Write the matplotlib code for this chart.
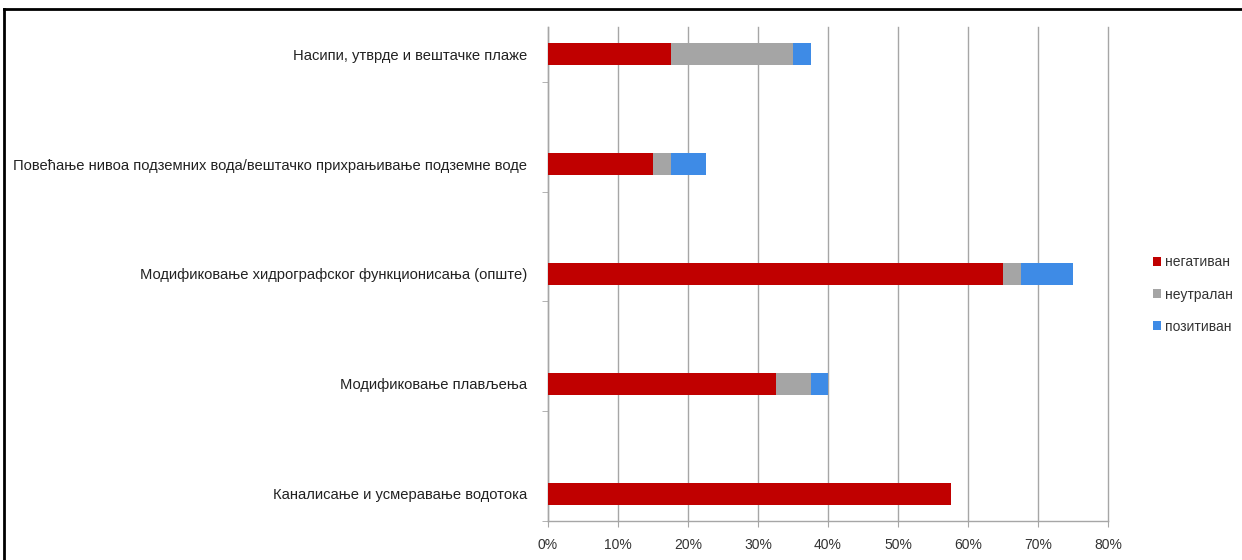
import matplotlib
matplotlib.use("Agg")
import matplotlib.pyplot as plt
from matplotlib.lines import Line2D
from matplotlib.ticker import FuncFormatter, FixedLocator

categories = [
    "Каналисање и усмеравање водотока",
    "Модификовање плављења",
    "Модификовање хидрографског функционисања (опште)",
    "Повећање нивоа подземних вода/вештачко прихрањивање подземне воде",
    "Насипи, утврде и вештачке плаже",
]
negative = [57.5, 32.5, 65.0, 15.0, 17.5]
neutral = [0.0, 5.0, 2.5, 2.5, 17.5]
positive = [0.0, 2.5, 7.5, 5.0, 2.5]
series_names = ["негативан", "неутралан", "позитиван"]
colors = ["#C00000", "#A5A5A5", "#3E8BE6"]
x_ticks = [0, 10, 20, 30, 40, 50, 60, 70, 80]

plt.rcParams["font.family"] = ["Liberation Sans Narrow", "Liberation Sans", "DejaVu Sans"]

fig = plt.figure(figsize=(12.42, 5.6), dpi=100)
fig.patch.set_facecolor("white")
ax = fig.add_axes([548 / 1242, 1 - 521 / 560, (1108 - 548) / 1242, (521 - 27) / 560])

ypos = list(range(len(categories)))
left = [0.0] * len(categories)
for vals, name, col in zip([negative, neutral, positive], series_names, colors):
    ax.barh(ypos, vals, left=left, height=0.2, color=col, label=name, zorder=3)
    left = [a + b for a, b in zip(left, vals)]

ax.set_xlim(0, 80)
ax.set_ylim(-0.25, len(categories) - 0.75)
ax.xaxis.set_major_locator(FixedLocator(x_ticks))
ax.xaxis.set_major_formatter(FuncFormatter(lambda v, p: f"{int(v)}%"))
ax.grid(axis="x", color="#A6A6A6", linewidth=1.0, zorder=0)
for gl in ax.get_xgridlines():
    gl.set_clip_on(False)

ax.set_yticks(ypos)
ax.set_yticklabels(categories, fontsize=10.6, color="#222222")
ax.yaxis.set_minor_locator(FixedLocator([i - 0.25 for i in range(len(categories) + 1)]))
ax.tick_params(axis="y", which="major", length=0, pad=15)
ax.tick_params(axis="y", which="minor", length=4, color="#A6A6A6", direction="out")
ax.tick_params(axis="x", length=4, color="#A6A6A6", labelsize=10, labelcolor="#333333", pad=8)

for side in ["top", "right"]:
    ax.spines[side].set_visible(False)
for side in ["left", "bottom"]:
    ax.spines[side].set_color("#A6A6A6")
    ax.spines[side].set_linewidth(1.0)

fig.legend(loc="upper left", bbox_to_anchor=(1140 / 1242, 1 - 243 / 560),
           frameon=False, fontsize=10, handlelength=0.6, handleheight=0.6,
           handletextpad=0.3, labelspacing=1.3, labelcolor="#333333")

# outer frame: top and left edges only
fig.add_artist(Line2D([4 / 1242, 1.0], [1 - 9 / 560, 1 - 9 / 560],
                      transform=fig.transFigure, color="black", linewidth=2.0))
fig.add_artist(Line2D([4 / 1242, 4 / 1242], [0.0, 1 - 9 / 560],
                      transform=fig.transFigure, color="black", linewidth=2.0))

fig.savefig("out.png", dpi=100)
